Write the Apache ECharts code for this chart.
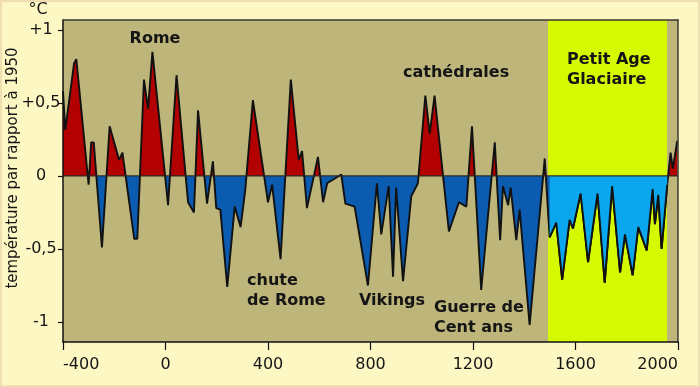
<!DOCTYPE html>
<html>
<head>
<meta charset="utf-8">
<script src="https://cdn.jsdelivr.net/npm/echarts@6/dist/echarts.min.js"></script>
<style>
html,body{margin:0;padding:0;background:#fdf7c4;}
#c{width:700px;height:387px;}
</style>
</head>
<body>
<div id="c"></div>
<script>
// ---- data ----
var years = [-400,-391,-357,-348,-300,-290,-280,-248,-218,-181,-168,-122,-110,-84,-68,-51,10,43,88,111,127,162,185,198,214,241,270,293,311,341,400,416,449,489,520,533,552,595,615,631,686,702,738,790,825,842,871,888,900,927,959,985,1014,1031,1050,1106,1145,1174,1196,1232,1285,1306,1317,1337,1347,1369,1382,1421,1480,1499,1525,1548,1577,1590,1620,1649,1686,1714,1743,1774,1793,1823,1845,1878,1901,1910,1923,1936,1958,1971,1980,1997];
var temps = [0.58,0.315,0.77,0.80,-0.06,0.23,0.23,-0.49,0.34,0.11,0.16,-0.43,-0.43,0.66,0.46,0.85,-0.20,0.69,-0.18,-0.25,0.45,-0.19,0.10,-0.22,-0.23,-0.76,-0.21,-0.35,-0.10,0.52,-0.18,-0.06,-0.57,0.66,0.11,0.17,-0.22,0.13,-0.18,-0.05,0.01,-0.19,-0.21,-0.75,-0.05,-0.40,-0.07,-0.69,-0.08,-0.72,-0.14,-0.05,0.55,0.29,0.55,-0.38,-0.18,-0.21,0.34,-0.78,0.23,-0.44,-0.07,-0.20,-0.08,-0.44,-0.23,-1.02,0.12,-0.42,-0.32,-0.71,-0.30,-0.36,-0.12,-0.59,-0.12,-0.73,-0.07,-0.66,-0.40,-0.68,-0.35,-0.51,-0.09,-0.33,-0.13,-0.50,-0.06,0.16,0.05,0.24];
var xTicks = [-400,0,400,800,1200,1600,2000];
var yTicks = [-1,-0.5,0,0.5,1];
var yTickLabels = ['-1','-0,5','0','+0,5','+1'];
var liaStart = 1493, liaEnd = 1957;
var notes = [
  {text:'Rome'}, {text:'cathédrales'}, {text:'Petit Age\nGlaciaire'},
  {text:'chute\nde Rome'}, {text:'Vikings'}, {text:'Guerre de\nCent ans'}
];

// ---- build ----
var all = years.map(function(y,i){return [y,temps[i]];});
var lia = all.filter(function(d){return d[0]>=liaStart && d[0]<=liaEnd+1;});
var Y_MIN = -1.137, Y_MAX = 1.068;

var RED='#b30000', DBLUE='#0b5cb0', LBLUE='#0aa6ee', KHAKI='#bdb57a', GREEN='#d5f900';
var FONT='DejaVu Sans';

var chart = echarts.init(document.getElementById('c'), null, {renderer:'canvas'});
var noteStyle = {fontFamily:FONT, fontWeight:'bold', fontSize:16, fill:'#151515', lineHeight:20};
var noteLayout = [
  {x:155, y:39, align:'center'},
  {x:403, y:73, align:'left'},
  {x:567, y:70, align:'left'},
  {x:247, y:291, align:'left'},
  {x:359, y:301, align:'left'},
  {x:434, y:318, align:'left'}
];
var graphics = notes.map(function(n,i){
  var l = noteLayout[i];
  return {type:'text', x:l.x, y:l.y, z:50,
    style:Object.assign({}, noteStyle, {text:n.text, align:l.align, verticalAlign:'middle'})};
});
graphics.push({type:'text', x:38, y:10, z:50, style:{text:'°C', fontFamily:FONT, fontSize:16, fill:'#151515', align:'center', verticalAlign:'middle'}});
graphics.push({type:'text', x:13, y:168, rotation:Math.PI/2, z:50, style:{text:'température par rapport à 1950', fontFamily:FONT, fontSize:15, fill:'#151515', align:'center', verticalAlign:'middle'}});
graphics.push({type:'rect', z:60, silent:true, shape:{x:1, y:1, width:698, height:385}, style:{fill:'none', stroke:'#efdfb0', lineWidth:2}});

var option = {
  backgroundColor:'#fdf7c4',
  animation:false,
  grid:{left:63, right:22, top:20, bottom:45, show:true, backgroundColor:KHAKI, borderWidth:0},
  xAxis:[{
    type:'value', min:-400, max:2000, interval:400, z:10,
    axisLine:{onZero:false, lineStyle:{color:'#111', width:1.5}},
    axisTick:{show:true, length:8, lineStyle:{color:'#111', width:1.2}},
    axisLabel:{fontFamily:FONT, fontSize:16, color:'#151515', margin:15, alignMinLabel:'left', alignMaxLabel:'right',
      formatter:function(v){return String(v);} },
    splitLine:{show:false}
  },{
    type:'value', position:'top', min:-400, max:2000, z:10,
    axisLine:{show:true, onZero:false, lineStyle:{color:'#3a3a30', width:1.5}},
    axisTick:{show:false}, axisLabel:{show:false}, splitLine:{show:false}
  }],
  yAxis:[{
    type:'value', min:Y_MIN, max:Y_MAX, z:10,
    axisLine:{show:true, onZero:false, lineStyle:{color:'#111', width:1.5}},
    axisTick:{show:true, length:5, customValues:yTicks, lineStyle:{color:'#111', width:1.2}},
    axisLabel:{fontFamily:FONT, fontSize:16, color:'#151515', customValues:yTicks, align:'center', margin:22,
      formatter:function(v){var i=yTicks.indexOf(v); return i>=0?yTickLabels[i]:'';}},
    splitLine:{show:false}
  },{
    type:'value', position:'right', min:Y_MIN, max:Y_MAX, z:10,
    axisLine:{show:true, onZero:false, lineStyle:{color:'#3a3a30', width:1.5}},
    axisTick:{show:false}, axisLabel:{show:false}, splitLine:{show:false}
  }],
  visualMap:[
    {type:'piecewise', show:false, seriesIndex:1, dimension:1, pieces:[{gt:0, lte:5, color:RED},{gt:-5, lte:0, color:DBLUE}]},
    {type:'piecewise', show:false, seriesIndex:2, dimension:1, pieces:[{gt:0, lte:5, color:RED},{gt:-5, lte:0, color:LBLUE}]}
  ],
  series:[
    {type:'custom', z:1, silent:true, data:[[liaStart, liaEnd]],
      renderItem:function(params, api){
        var p0 = api.coord([api.value(0), Y_MAX]);
        var p1 = api.coord([api.value(1), Y_MIN]);
        return {type:'rect', shape:{x:p0[0], y:p0[1], width:p1[0]-p0[0], height:p1[1]-p0[1]}, style:{fill:GREEN}};
      }},
    {type:'line', data:all, z:3, showSymbol:false, symbol:'none',
      lineStyle:{color:'#111', width:1.9}, areaStyle:{opacity:1}},
    {type:'line', data:lia, z:4, showSymbol:false, symbol:'none',
      lineStyle:{color:'#111', width:1.9}, areaStyle:{opacity:1}},
    {type:'custom', z:5, silent:true, data:[[-400, 2000]],
      renderItem:function(params, api){
        var p0 = api.coord([api.value(0), 0]);
        var p1 = api.coord([api.value(1), 0]);
        return {type:'line', shape:{x1:p0[0], y1:p0[1], x2:p1[0], y2:p1[1]}, style:{stroke:'#2a2a2a', lineWidth:1.2}};
      }}
  ],
  graphic:graphics
};
chart.setOption(option);
</script>
</body>
</html>
